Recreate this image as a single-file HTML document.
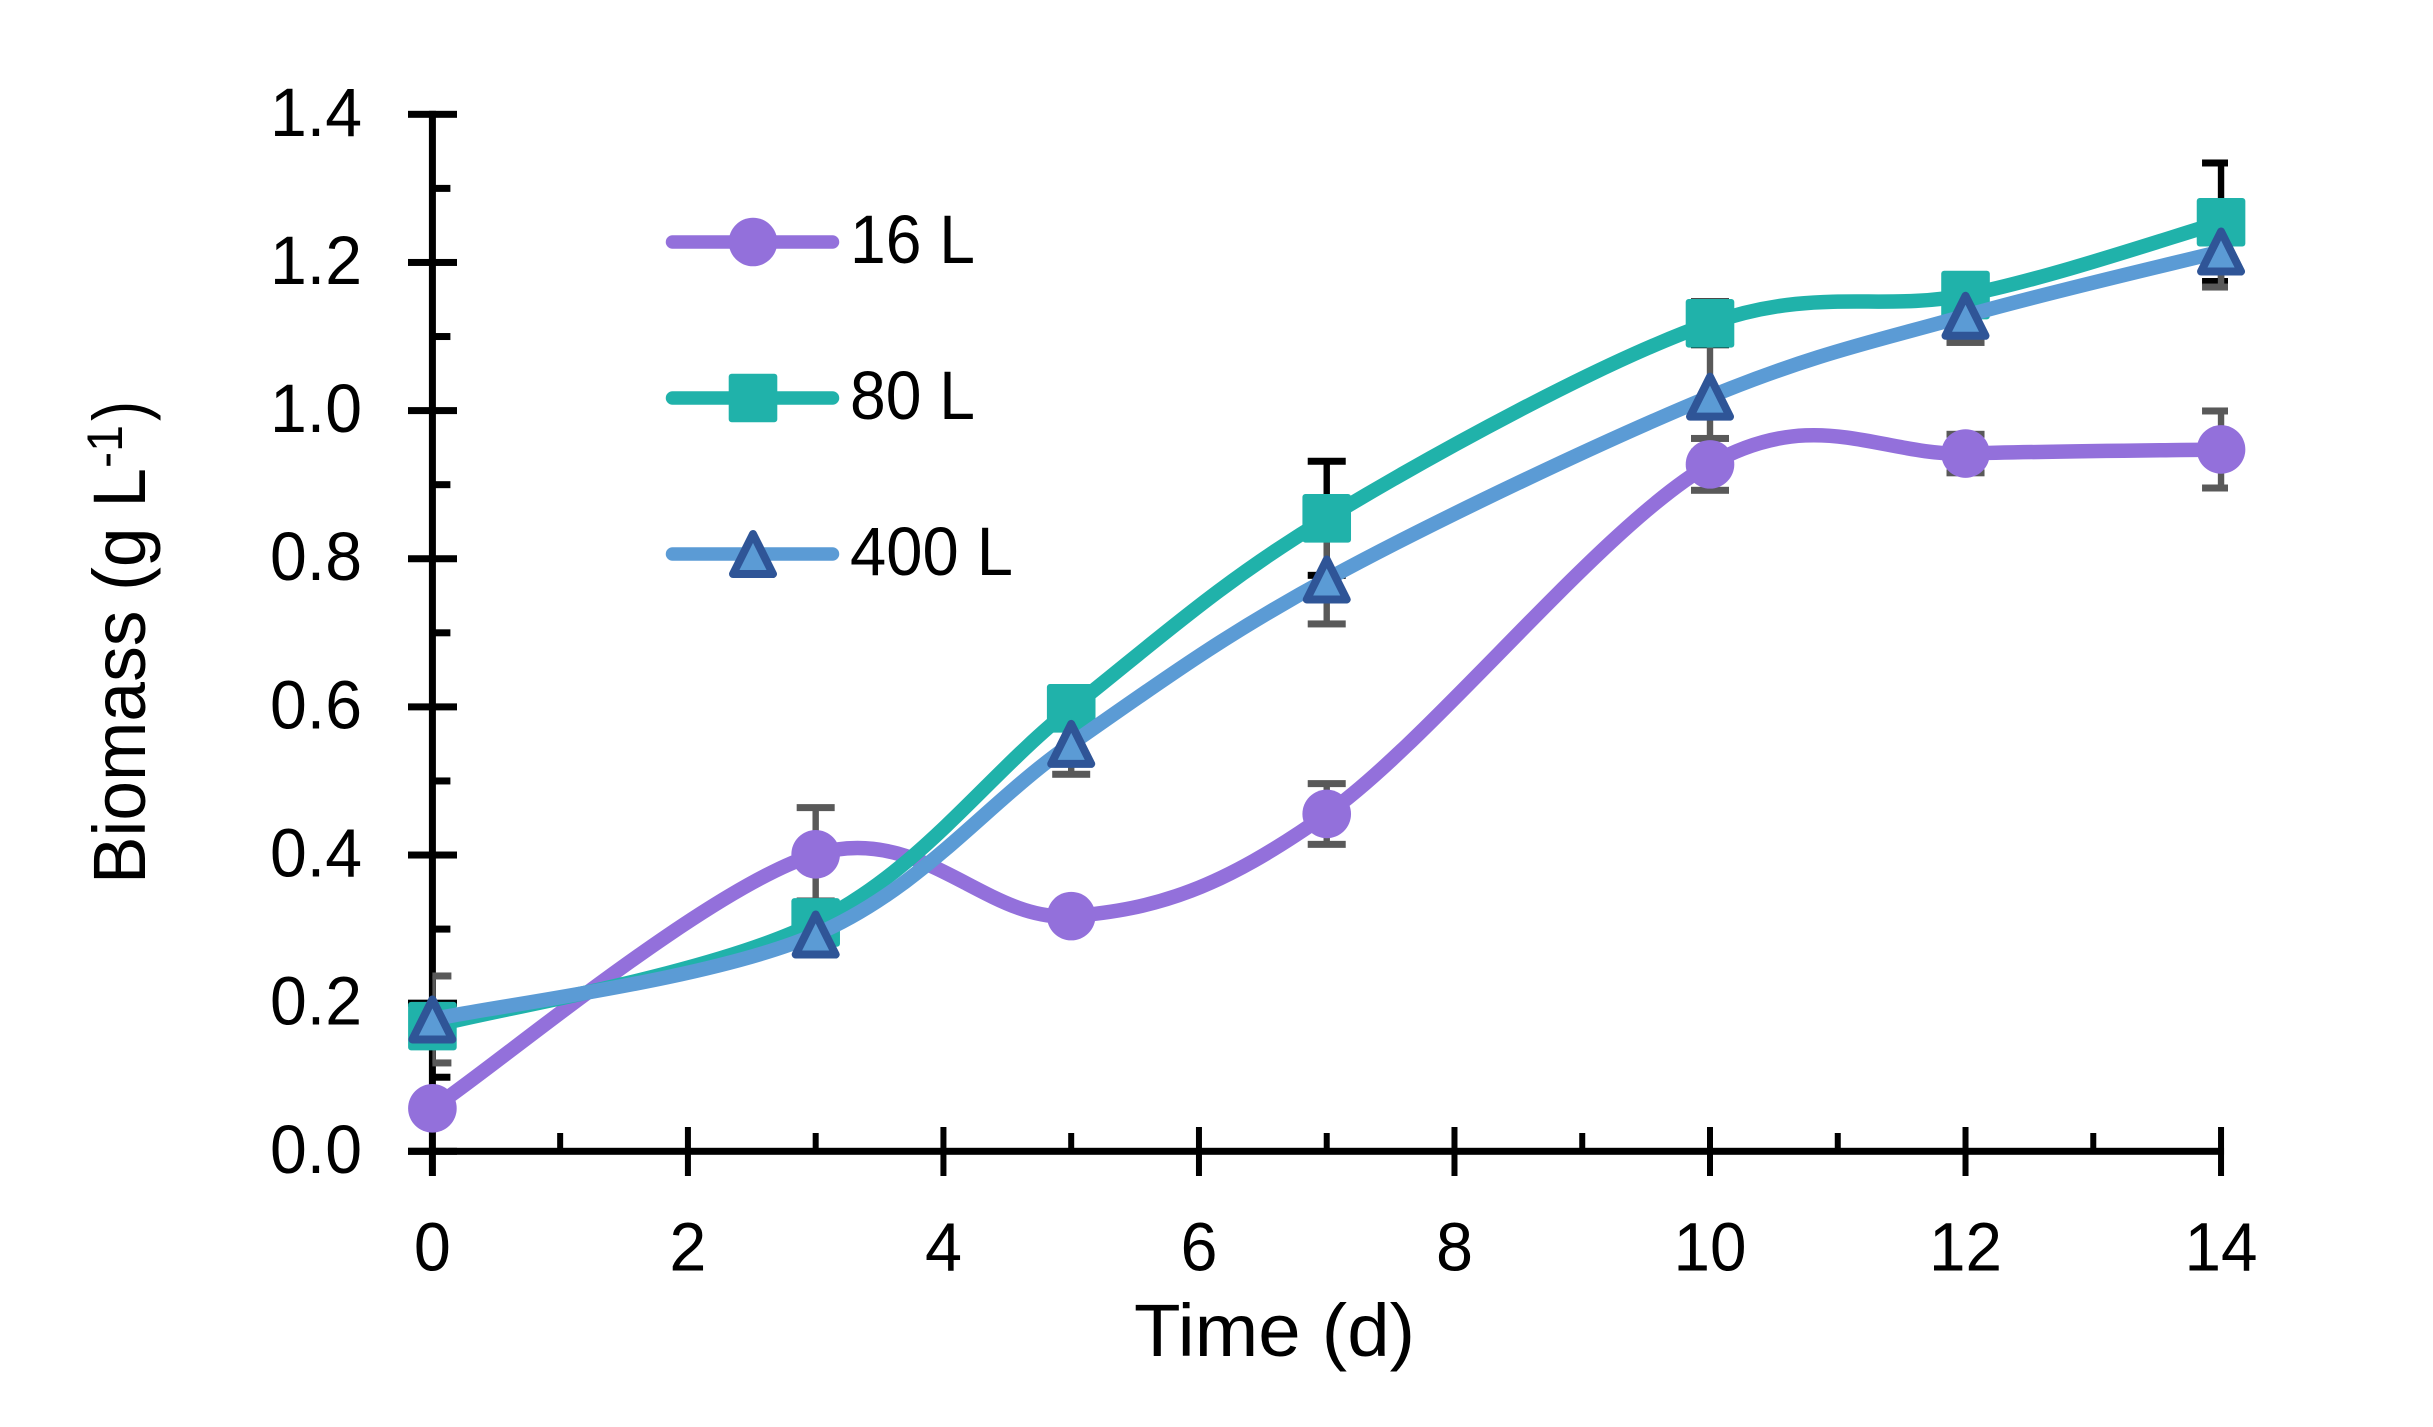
<!DOCTYPE html>
<html lang="en">
<head>
<meta charset="utf-8">
<title>Biomass over time</title>
<style>
html,body{margin:0;padding:0;background:#fff;width:2433px;height:1427px;overflow:hidden}
svg{display:block}
text{font-family:"Liberation Sans",sans-serif;fill:#000}
</style>
</head>
<body>
<svg id="chart" xmlns="http://www.w3.org/2000/svg" width="2433" height="1427" viewBox="0 0 2433 1427">
  <defs>
    <clipPath id="plot-clip"><rect x="432.4" y="0" width="1795.6" height="1427"/></clipPath>
  </defs>
  <g id="axes"></g>
  <g id="errors" clip-path="url(#plot-clip)"></g>
  <g id="series"></g>
  <g id="legend"></g>
  <text x="1134" y="1356" font-size="74" textLength="281" lengthAdjust="spacingAndGlyphs">Time (d)</text>
  <g>
    <text transform="translate(145,884) rotate(-90)" font-size="74" textLength="416" lengthAdjust="spacingAndGlyphs">Biomass (g L</text>
    <text transform="translate(122,468) rotate(-90)" font-size="50" textLength="43" lengthAdjust="spacingAndGlyphs">-1</text>
    <text transform="translate(145,421) rotate(-90)" font-size="74" textLength="20" lengthAdjust="spacingAndGlyphs">)</text>
  </g>
</svg>
<script>
var days = [0, 3, 5, 7, 10, 12, 14];
var seriesNames = ['16 L', '80 L', '400 L'];
var biomass16 = [0.058, 0.401, 0.3175, 0.4554, 0.9274, 0.942, 0.9475];
var biomass80 = [0.169, 0.309, 0.598, 0.8546, 1.1179, 1.156, 1.2543];
var biomass400 = [0.178, 0.2927, 0.55, 0.772, 1.0188, 1.128, 1.2148];
var error16 = [0.01, 0.063, 0.01, 0.041, 0.035, 0.026, 0.052];
var error80 = [0.02, 0.02, 0.02, 0.077, 0.029, 0.02, 0.08];
var error400 = [0.0587, 0.02, 0.041, 0.06, 0.075, 0.036, 0.048];
var yTicks = ['0.0', '0.2', '0.4', '0.6', '0.8', '1.0', '1.2', '1.4'];
var yMinorTicks = [0.1, 0.3, 0.5, 0.7, 0.9, 1.1, 1.3];
var xTicks = ['0', '2', '4', '6', '8', '10', '12', '14'];
var xMinorTicks = [1, 3, 5, 7, 9, 11, 13];

var X0 = 432.4, XPX = 127.76, Y0 = 1151.3, YPX = 740.7;
function xScale(t) { return X0 + XPX * t; }
function yScale(v) { return Y0 - YPX * v; }

var NS = 'http://www.w3.org/2000/svg';
function make(tag, attrs, parent) {
  var el = document.createElementNS(NS, tag);
  for (var k in attrs) { el.setAttribute(k, attrs[k]); }
  parent.appendChild(el);
  return el;
}

var axes = document.getElementById('axes');
var errors = document.getElementById('errors');
var seriesLayer = document.getElementById('series');
var legend = document.getElementById('legend');

/* axes */
var yLine = make('rect', {x: X0 - 3.5, y: yScale(1.4) - 3.5, width: 7, height: 1176 - yScale(1.4) + 3.5, fill: '#000'}, axes);


var xLine = make('rect', {x: 408, y: Y0 - 3.5, width: xScale(14) + 3 - 408, height: 7, fill: '#000'}, axes);



yTicks.forEach(function (label) {
  var v = parseFloat(label);
  var t = make('rect', {x: 408, y: yScale(v) - 3.5, width: 49, height: 7, fill: '#000'}, axes);
  
  
  var l = make('text', {x: 316, y: yScale(v) + 21.5, 'font-size': 69, 'text-anchor': 'middle', textLength: 92, lengthAdjust: 'spacingAndGlyphs'}, axes);
  l.textContent = label;
  
  
});
yMinorTicks.forEach(function (v) {
  var t = make('rect', {x: X0, y: yScale(v) - 3.5, width: 18, height: 7, fill: '#000'}, axes);
  
  
});
xTicks.forEach(function (label) {
  var v = parseFloat(label);
  var t = make('rect', {x: xScale(v) - 3, y: 1127, width: 6, height: 49, fill: '#000'}, axes);
  
  
  var l = make('text', {x: xScale(v), y: 1270.5, 'font-size': 69, 'text-anchor': 'middle', textLength: label.length > 1 ? 73 : 37, lengthAdjust: 'spacingAndGlyphs'}, axes);
  l.textContent = label;
  
  
});
xMinorTicks.forEach(function (v) {
  var t = make('rect', {x: xScale(v) - 3, y: 1133, width: 6, height: Y0 - 1133, fill: '#000'}, axes);
  
  
});

/* error bars: all drawn beneath the lines and markers */
function drawErrors(values, errs, color, name) {
  values.forEach(function (v, i) {
    var cx = xScale(days[i]);
    var top = yScale(v + errs[i]);
    var bottom = yScale(v - errs[i]);
    var g = make('g', {fill: color}, errors);
    
    
    make('rect', {x: cx - 3.2, y: top, width: 6.4, height: bottom - top}, g);
    make('rect', {x: cx - 19, y: top - 3.5, width: 38, height: 7}, g);
    make('rect', {x: cx - 19, y: bottom - 3.5, width: 38, height: 7}, g);
  });
}
drawErrors(biomass16, error16, '#595959', 'error-bar-16l');
drawErrors(biomass80, error80, '#000000', 'error-bar-80l');
drawErrors(biomass400, error400, '#595959', 'error-bar-400l');

/* smooth line through the points */
function smoothPath(values) {
  var p = values.map(function (v, i) { return [xScale(days[i]), yScale(v)]; });
  var d = 'M' + p[0][0] + ' ' + p[0][1];
  for (var i = 0; i < p.length - 1; i++) {
    var a = p[Math.max(i - 1, 0)], b = p[i], c = p[i + 1], e = p[Math.min(i + 2, p.length - 1)];
    d += ' C' + (b[0] + (c[0] - a[0]) / 6) + ' ' + (b[1] + (c[1] - a[1]) / 6) +
         ' ' + (c[0] - (e[0] - b[0]) / 6) + ' ' + (c[1] - (e[1] - b[1]) / 6) +
         ' ' + c[0] + ' ' + c[1];
  }
  return d;
}

function circleMark(parent, cx, cy) {
  return make('circle', {cx: cx, cy: cy, r: 24.3, fill: '#9370DB'}, parent);
}
function squareMark(parent, cx, cy) {
  return make('rect', {x: cx - 24.3, y: cy - 24.3, width: 48.6, height: 48.6, rx: 3, fill: '#20B2AA'}, parent);
}
function triangleMark(parent, cx, cy) {
  var pts = cx + ',' + (cy - 20) + ' ' + (cx + 20) + ',' + (cy + 20) + ' ' + (cx - 20) + ',' + (cy + 20);
  return make('polygon', {points: pts, fill: '#5B9BD5', stroke: '#2F5597', 'stroke-width': 8, 'stroke-linejoin': 'round'}, parent);
}

function drawSeries(values, color, marker, name) {
  var g = make('g', {}, seriesLayer);
  
  
  var line = make('path', {d: smoothPath(values), fill: 'none', stroke: color, 'stroke-width': 14.5, 'stroke-linecap': 'round', 'stroke-linejoin': 'round'}, g);
  
  
  values.forEach(function (v, i) {
    var m = marker(g, xScale(days[i]), yScale(v));
    
    
  });
}
drawSeries(biomass16, '#9370DB', circleMark, 'series-16l');
drawSeries(biomass80, '#20B2AA', squareMark, 'series-80l');
drawSeries(biomass400, '#5B9BD5', triangleMark, 'series-400l');

/* legend */
function drawLegend(index, cy, color, marker, textX, textLen) {
  var g = make('g', {}, legend);
  
  
  make('line', {x1: 672.5, y1: cy, x2: 832.5, y2: cy, stroke: color, 'stroke-width': 13.5, 'stroke-linecap': 'round'}, g);
  marker(g, 753, cy);
  var t = make('text', {x: textX, y: cy + 21, 'font-size': 69, textLength: textLen, lengthAdjust: 'spacingAndGlyphs'}, g);
  t.textContent = seriesNames[index];
  
  
}
drawLegend(0, 242, '#9370DB', circleMark, 850, 125);
drawLegend(1, 398, '#20B2AA', squareMark, 850, 125);
drawLegend(2, 554, '#5B9BD5', triangleMark, 850, 163);
</script>
</body>
</html>
